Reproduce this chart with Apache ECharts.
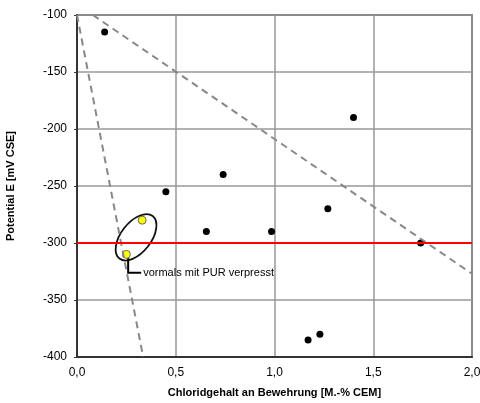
<!DOCTYPE html>
<html>
<head>
    <meta charset="utf-8">
    <title>Potential vs Chloridgehalt</title>
    <script src="https://cdn.jsdelivr.net/npm/echarts@6/dist/echarts.min.js"></script>
    <style>
        body { margin: 0; background: #fff; }
        #main { width: 480px; height: 403px; }
    </style>
</head>
<body>
    <div id="main"></div>
    <script type="text/javascript">
        // Messpunkte [Chloridgehalt, Potential]
        var pointsBlack = [
            [0.14, -115], [0.45, -255], [0.74, -240], [0.655, -290],
            [0.985, -290], [1.27, -270], [1.40, -190], [1.74, -300],
            [1.17, -385], [1.23, -380]
        ];
        // vormals mit PUR verpresst
        var pointsYellow = [[0.33, -280], [0.25, -310]];

        // Grenzlinien (gestrichelt) und Schwellwert
        var dashLeft = [[0, -100], [0.335, -400]];
        var dashRight = [[0.08, -100], [2.0, -327]];
        var thresholdLine = [[0, -300], [2, -300]];

        // Annotation: Ellipsenmitte, Knick der Verbindungslinie, Textanker
        var annoEllipse = [0.299, -295];
        var annoStart = [0.259, -313];
        var annoCorner = [0.259, -326];
        var annoText = [0.335, -326];
        var annoLabel = 'vormals mit PUR verpresst';

        var xTicks = [0, 0.5, 1, 1.5, 2];
        var yTicks = [-400, -350, -300, -250, -200, -150, -100];

        var myChart = echarts.init(document.getElementById('main'));
        var font = 'Liberation Sans, Arial, sans-serif';

        var option = {
            animation: false,
            grid: {
                left: 77, right: 8, top: 15, bottom: 46,
                outerBoundsMode: 'none',
                show: true, borderColor: '#333', borderWidth: 1.5
            },
            xAxis: {
                type: 'value',
                min: xTicks[0], max: xTicks[xTicks.length - 1], interval: 0.5,
                name: 'Chloridgehalt an Bewehrung [M.-% CEM]',
                nameLocation: 'middle', nameGap: 30,
                nameTextStyle: { fontFamily: font, fontSize: 11, fontWeight: 'bold', color: '#000' },
                axisLine: { lineStyle: { color: '#333', width: 2 } },
                axisTick: { show: false },
                axisLabel: {
                    fontFamily: font, fontSize: 12, color: '#000', margin: 10,
                    formatter: function (v) { return v.toFixed(1).replace('.', ','); }
                },
                splitLine: { lineStyle: { color: '#999', width: 1.5 } }
            },
            yAxis: {
                type: 'value',
                min: yTicks[0], max: yTicks[yTicks.length - 1], interval: 50,
                name: 'Potential E [mV CSE]',
                nameLocation: 'middle', nameGap: 61, nameRotate: 90,
                nameTextStyle: { fontFamily: font, fontSize: 11, fontWeight: 'bold', color: '#000' },
                axisLine: { lineStyle: { color: '#333', width: 2 } },
                axisTick: { show: true, length: 3, lineStyle: { color: '#333' } },
                axisLabel: { fontFamily: font, fontSize: 12, color: '#000', margin: 10 },
                splitLine: { lineStyle: { color: '#999', width: 1.5 } }
            },
            series: [
                {
                    type: 'line', data: dashLeft, showSymbol: false, silent: true,
                    lineStyle: { color: '#888', width: 2, type: [7, 5] }
                },
                {
                    type: 'line', data: dashRight, showSymbol: false, silent: true,
                    lineStyle: { color: '#888', width: 2, type: [7, 5] }
                },
                {
                    type: 'line', data: thresholdLine, showSymbol: false, silent: true,
                    lineStyle: { color: '#ff0000', width: 2 }
                },
                {
                    type: 'scatter', data: pointsBlack, symbolSize: 7,
                    itemStyle: { color: '#000', opacity: 1 }
                },
                {
                    type: 'scatter', data: pointsYellow, symbolSize: 8,
                    itemStyle: { color: '#ffff00', borderColor: '#666', borderWidth: 1, opacity: 1 }
                },
                {
                    type: 'custom', silent: true,
                    data: [0],
                    renderItem: function (params, api) {
                        var c = api.coord(annoEllipse);
                        var p0 = api.coord(annoStart);
                        var p1 = api.coord(annoCorner);
                        var p2 = api.coord(annoText);
                        return {
                            type: 'group',
                            children: [
                                {
                                    type: 'ellipse',
                                    shape: { cx: 0, cy: 0, rx: 27, ry: 15 },
                                    x: c[0], y: c[1],
                                    rotation: 52 * Math.PI / 180,
                                    style: { fill: 'none', stroke: '#111', lineWidth: 1.8 }
                                },
                                {
                                    type: 'polyline',
                                    shape: { points: [p0, p1, [p2[0] - 2, p2[1]]] },
                                    style: { fill: 'none', stroke: '#000', lineWidth: 2 }
                                },
                                {
                                    type: 'text',
                                    x: p2[0], y: p2[1],
                                    style: {
                                        text: annoLabel, fill: '#000',
                                        font: '11px ' + font,
                                        textAlign: 'left', textVerticalAlign: 'middle'
                                    }
                                }
                            ]
                        };
                    }
                }
            ]
        };

        myChart.setOption(option);
    </script>
</body>
</html>
